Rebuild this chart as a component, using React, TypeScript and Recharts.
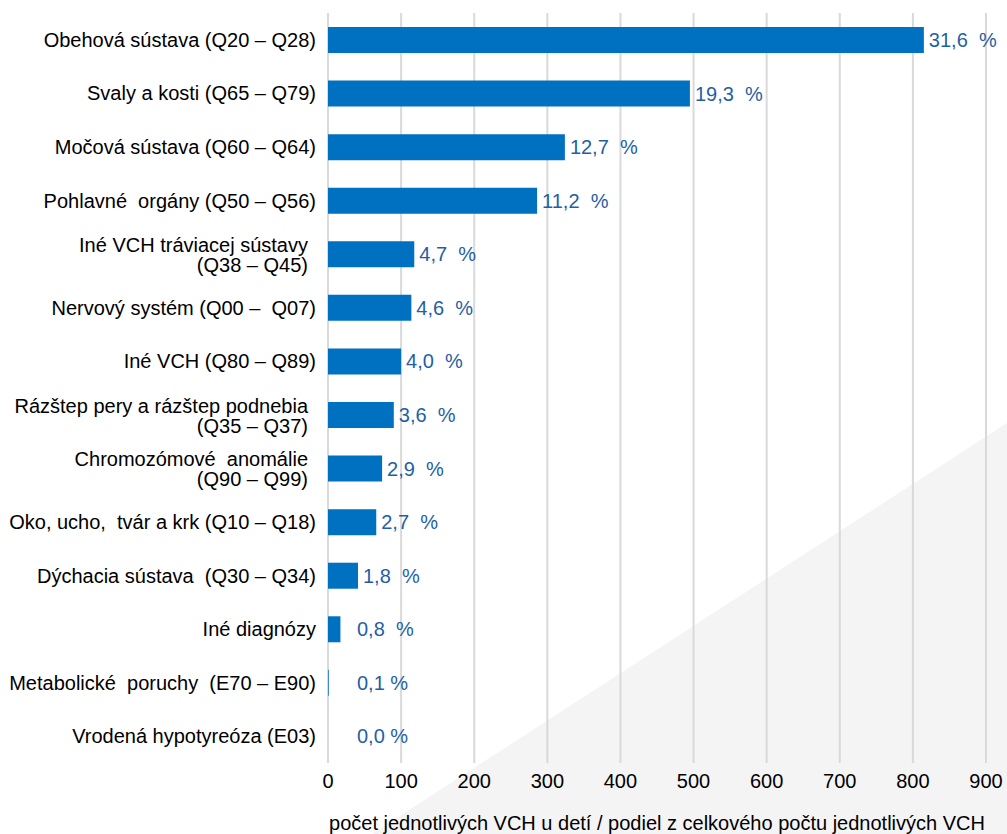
import { BarChart, Bar, XAxis, YAxis, CartesianGrid, LabelList, Cell } from 'recharts'

const categories = [
  'Obehová sústava (Q20 – Q28)',
  'Svaly a kosti (Q65 – Q79)',
  'Močová sústava (Q60 – Q64)',
  'Pohlavné  orgány (Q50 – Q56)',
  'Iné VCH tráviacej sústavy\n(Q38 – Q45)',
  'Nervový systém (Q00 –  Q07)',
  'Iné VCH (Q80 – Q89)',
  'Rázštep pery a rázštep podnebia\n(Q35 – Q37)',
  'Chromozómové  anomálie\n(Q90 – Q99)',
  'Oko, ucho,  tvár a krk (Q10 – Q18)',
  'Dýchacia sústava  (Q30 – Q34)',
  'Iné diagnózy',
  'Metabolické  poruchy  (E70 – E90)',
  'Vrodená hypotyreóza (E03)',
]
const counts = [815, 495, 324, 286, 118, 114, 100, 90, 74, 66, 41, 17, 1, 0]
const shares = [
  '31,6  %', '19,3  %', '12,7  %', '11,2  %', '4,7  %', '4,6  %', '4,0  %',
  '3,6  %', '2,9  %', '2,7  %', '1,8  %', '0,8  %', '0,1 %', '0,0 %',
]
const xTicks = [0, 100, 200, 300, 400, 500, 600, 700, 800, 900]

const data = categories.map((name, i) => ({ name, count: counts[i], share: shares[i] }))

const FONT = '"Liberation Sans", Arial, sans-serif'

function CategoryTick(props: any) {
  const { x, y, payload } = props
  const lines: string[] = String(payload.value).split('\n')
  if (lines.length === 1) {
    return (
      <text x={x - 4} y={y} textAnchor="end" dominantBaseline="central" fill="#000" fontSize={20} style={{ whiteSpace: 'pre' }}>
        {lines[0]}
      </text>
    )
  }
  return (
    <text x={x - 12} y={y} textAnchor="end" fill="#000" fontSize={20} style={{ whiteSpace: 'pre' }}>
      <tspan x={x - 12} y={y - 9} dominantBaseline="central">{lines[0]}</tspan>
      <tspan x={x - 12} y={y + 11} dominantBaseline="central">{lines[1]}</tspan>
    </text>
  )
}

function ShareLabel(props: any) {
  const { x, y, width, height, value } = props
  const lx = Math.max(x + width + 5, x + 29)
  return (
    <text x={lx} y={y + height / 2} dominantBaseline="central" fill="#1F5FA6" fontSize={20} style={{ whiteSpace: 'pre' }}>
      {value}
    </text>
  )
}

export default function App() {
  return (
    <div style={{ position: 'absolute', left: 0, top: 0, width: 1007, height: 834, fontFamily: FONT, background: '#fff' }}>
      <svg width={1007} height={834} style={{ position: 'absolute', left: 0, top: 0 }}>
        <polygon points="372,834 1007,423 1007,834" fill="#f4f4f4" />
      </svg>
      <div style={{ position: 'absolute', left: 0, top: 0 }}>
        <BarChart
          width={1007}
          height={834}
          data={data}
          layout="vertical"
          margin={{ top: 13, right: 21, bottom: 0, left: 0 }}
          barCategoryGap={0}
        >
          <CartesianGrid horizontal={false} vertical stroke="#d9d9d9" strokeWidth={2} />
          <XAxis
            type="number"
            domain={[0, 900]}
            ticks={xTicks}
            interval={0}
            axisLine={false}
            tickLine={false}
            tick={{ fill: '#000', fontSize: 20 }}
            tickMargin={5}
            height={71}
            label={{ value: 'počet jednotlivých VCH u detí / podiel z celkového počtu jednotlivých VCH', position: 'insideBottom', offset: 4, fill: '#000', fontSize: 20 }}
          />
          <YAxis
            type="category"
            dataKey="name"
            width={328}
            axisLine={false}
            tickLine={false}
            interval={0}
            tick={<CategoryTick />}
          />
          <Bar
            dataKey="count"
            fill="#0070C0"
            barSize={26}
            minPointSize={(v: number) => (v === 0 ? 0.5 : 0)}
            isAnimationActive={false}
          >
            {data.map((d, i) => (
              <Cell key={i} fill={d.count === 0 ? 'transparent' : '#0070C0'} />
            ))}
            <LabelList dataKey="share" content={<ShareLabel />} />
          </Bar>
        </BarChart>
      </div>
    </div>
  )
}
